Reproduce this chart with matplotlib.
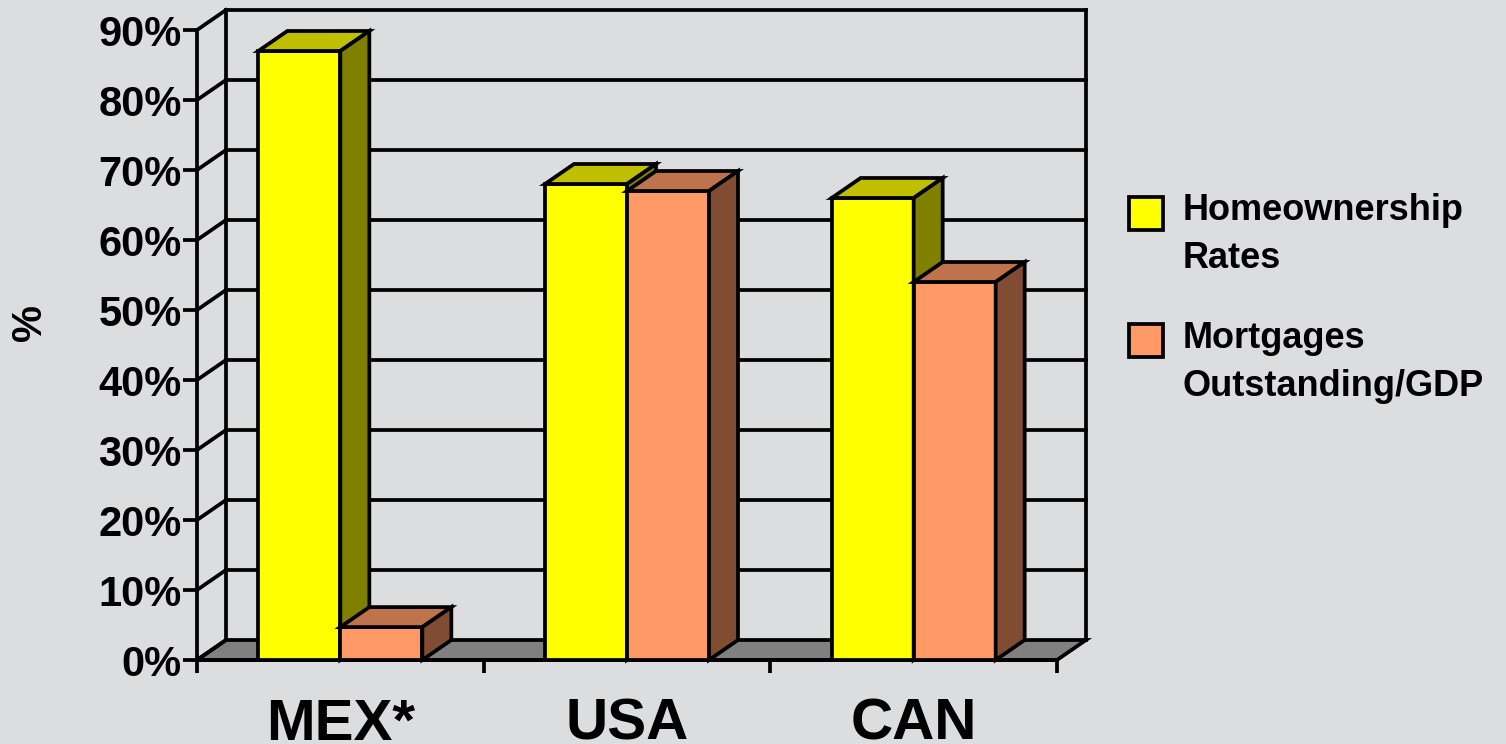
import matplotlib.pyplot as plt
from matplotlib.patches import Polygon, Rectangle

plt.rcParams['font.family'] = ['Liberation Sans', 'DejaVu Sans']
plt.rcParams['font.weight'] = 'bold'

countries = ['MEX*', 'USA', 'CAN']
homeownership = [87, 68, 66]
mortgages_gdp = [4.7, 67, 54]
series_names = ['Homeownership\nRates', 'Mortgages\nOutstanding/GDP']
yticks = list(range(0, 100, 10))
ytick_labels = ['%d%%' % v for v in yticks]

bg = '#DCDDDF'
faces = {
    'yellow': ('#FFFF00', '#BFBF00', '#808000'),
    'orange': ('#FF9966', '#BF734D', '#804D33'),
}
lw = 2.7

fig = plt.figure(figsize=(15.06, 7.44), dpi=100, facecolor=bg)
ax = fig.add_axes([197 / 1506, 84 / 744, 860 / 1506, 630 / 744])
ax.set_facecolor('none')
ax.set_xlim(0, 3)
ax.set_ylim(0, 90)
for s in ax.spines.values():
    s.set_visible(False)

# depth of the pseudo-3d box, in data units
dx = 29 / 860 * 3
dy = 20 / 7

# floor
ax.add_patch(Polygon([(0, 0), (3, 0), (3 + dx, dy), (dx, dy)], closed=True,
                     facecolor='#808080', edgecolor='black', lw=lw,
                     joinstyle='miter', clip_on=False, zorder=1))

# back wall grid and side wall diagonals
for v in yticks:
    ax.plot([0, dx], [v, v + dy], color='black', lw=lw, clip_on=False, zorder=1)
    if v > 0:
        ax.plot([dx, 3 + dx], [v + dy, v + dy], color='black', lw=lw,
                clip_on=False, zorder=1)
ax.plot([dx, dx], [dy, 90 + dy], color='black', lw=lw, clip_on=False, zorder=1)
ax.plot([3 + dx, 3 + dx], [dy, 90 + dy], color='black', lw=lw, clip_on=False, zorder=1)

# front axis lines
ax.plot([0, 0], [0, 90], color='black', lw=lw, clip_on=False, zorder=2)
ax.plot([0, 3], [0, 0], color='black', lw=lw, clip_on=False, zorder=2)


def box_bar(x0, w, h, colors, z):
    front, top, side = colors
    ax.bar(x0, h, width=w, align='edge', color=front, edgecolor='black',
           lw=lw, zorder=z)
    ax.add_patch(Polygon([(x0, h), (x0 + w, h), (x0 + w + dx, h + dy), (x0 + dx, h + dy)],
                         closed=True, facecolor=top, edgecolor='black', lw=lw,
                         joinstyle='miter', clip_on=False, zorder=z))
    ax.add_patch(Polygon([(x0 + w, 0), (x0 + w + dx, dy), (x0 + w + dx, h + dy), (x0 + w, h)],
                         closed=True, facecolor=side, edgecolor='black', lw=lw,
                         joinstyle='miter', clip_on=False, zorder=z))


w = 82 / 860 * 3
z = 3
for i in range(len(countries)):
    c = i + 0.5
    box_bar(c - w, w, homeownership[i], faces['yellow'], z)
    box_bar(c, w, mortgages_gdp[i], faces['orange'], z + 1)
    z += 2

# ticks
ax.set_yticks(yticks)
ax.set_yticklabels(ytick_labels, fontsize=30, fontweight='bold')
ax.tick_params(axis='y', length=10, width=lw, pad=1, direction='out')
ax.set_xticks([0, 1, 2, 3])
ax.set_xticklabels([])
ax.tick_params(axis='x', which='major', length=9, width=lw, direction='out')
ax.set_xticks([0.5, 1.5, 2.5], minor=True)
ax.set_xticklabels(countries, minor=True, fontsize=42, fontweight='bold')
ax.tick_params(axis='x', which='minor', length=0, pad=27)

fig.text(30 / 1506, 1 - 322 / 744, '%', rotation=90, fontsize=30,
         fontweight='bold', ha='center', va='center')

# legend
W, H = 1506, 744
legend_rows = [(197, 225, faces['yellow'][0], series_names[0]),
               (324, 353, faces['orange'][0], series_names[1])]
for box_top, baseline, col, label in legend_rows:
    fig.patches.append(Rectangle((1129 / W, 1 - (box_top + 33) / H), 34 / W, 33 / H,
                                 transform=fig.transFigure, facecolor=col,
                                 edgecolor='black', lw=lw))
    fig.text(1183 / W, 1 - (baseline - 32) / H, label, fontsize=26,
             fontweight='bold', ha='left', va='top', linespacing=1.5)

fig.savefig('out.png', dpi=100, facecolor=bg)
